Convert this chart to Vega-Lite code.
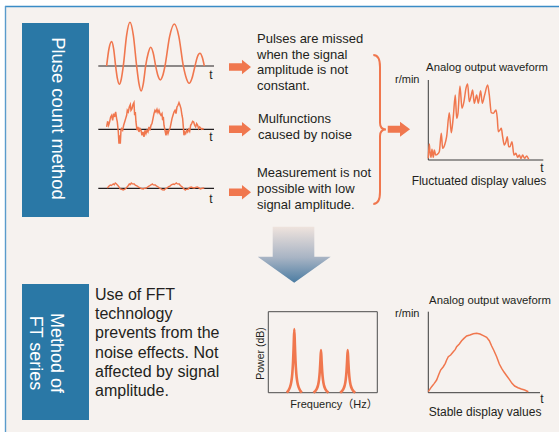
{
"$schema": "https://vega.github.io/schema/vega-lite/v6.json",
"width": 559, "height": 432, "padding": 0, "autosize": {"type": "none"},
"background": "#ffffff",
"config": {"view": {"stroke": null}, "text": {"font": "Liberation Sans"}},
"resolve": {"scale": {"x": "independent", "y": "independent"}},
"layer": [
{
"layer": [
{"data": {"values": [{"item": "panel"}]}, "mark": {"type": "rect", "color": "#f6f2ef"},
 "encoding": {"x": {"datum": 5, "scale": {"domain": [0, 559], "range": [0, 559]}, "axis": null}, "x2": {"datum": 559}, "y": {"datum": 6, "scale": {"domain": [0, 432], "range": [0, 432]}, "axis": null}, "y2": {"datum": 432}}},
{"data": {"values": [{"item": "top border"}]}, "mark": {"type": "rule", "color": "#3a8cc6", "strokeWidth": 1.6},
 "encoding": {"x": {"datum": 5, "scale": {"domain": [0, 559], "range": [0, 559]}, "axis": null}, "x2": {"datum": 559}, "y": {"datum": 6.5, "scale": {"domain": [0, 432], "range": [0, 432]}, "axis": null}}},
{"data": {"values": [{"item": "left border"}]}, "mark": {"type": "rule", "color": "#5a9bcb", "strokeWidth": 1.4},
 "encoding": {"x": {"datum": 5.5, "scale": {"domain": [0, 559], "range": [0, 559]}, "axis": null}, "y": {"datum": 6, "scale": {"domain": [0, 432], "range": [0, 432]}, "axis": null}, "y2": {"datum": 432}}},
{"data": {"values": [{"item": "pulse box"}]}, "mark": {"type": "rect", "color": "#2a78a6"},
 "encoding": {"x": {"datum": 22, "scale": {"domain": [0, 559], "range": [0, 559]}, "axis": null}, "x2": {"datum": 89}, "y": {"datum": 23, "scale": {"domain": [0, 432], "range": [0, 432]}, "axis": null}, "y2": {"datum": 217}}},
{"data": {"values": [{"item": "ft box"}]}, "mark": {"type": "rect", "color": "#2a78a6"},
 "encoding": {"x": {"datum": 22, "scale": {"domain": [0, 559], "range": [0, 559]}, "axis": null}, "x2": {"datum": 89}, "y": {"datum": 284, "scale": {"domain": [0, 432], "range": [0, 432]}, "axis": null}, "y2": {"datum": 420}}},
{"data": {"values": [{"item": "fft frame"}]}, "mark": {"type": "rect", "filled": false, "color": "#4d4d4d", "strokeWidth": 1},
 "encoding": {"x": {"datum": 268.3, "scale": {"domain": [0, 559], "range": [0, 559]}, "axis": null}, "x2": {"datum": 377.3}, "y": {"datum": 311.7, "scale": {"domain": [0, 432], "range": [0, 432]}, "axis": null}, "y2": {"datum": 392.7}}},
{"data": {"values": [{"item": "wave axis 1"}]}, "mark": {"type": "rule", "color": "#231f20", "strokeWidth": 1.2},
 "encoding": {"x": {"datum": 98.3, "scale": {"domain": [0, 559], "range": [0, 559]}, "axis": null}, "x2": {"datum": 214}, "y": {"datum": 66, "scale": {"domain": [0, 432], "range": [0, 432]}, "axis": null}}},
{"data": {"values": [{"item": "wave axis 2"}]}, "mark": {"type": "rule", "color": "#231f20", "strokeWidth": 1.2},
 "encoding": {"x": {"datum": 98.3, "scale": {"domain": [0, 559], "range": [0, 559]}, "axis": null}, "x2": {"datum": 214}, "y": {"datum": 129.3, "scale": {"domain": [0, 432], "range": [0, 432]}, "axis": null}}},
{"data": {"values": [{"item": "wave axis 3"}]}, "mark": {"type": "rule", "color": "#231f20", "strokeWidth": 1.2},
 "encoding": {"x": {"datum": 98.3, "scale": {"domain": [0, 559], "range": [0, 559]}, "axis": null}, "x2": {"datum": 214}, "y": {"datum": 188.3, "scale": {"domain": [0, 432], "range": [0, 432]}, "axis": null}}},
{"data": {"values": [{"item": "analog1 y axis"}]}, "mark": {"type": "rule", "color": "#3a3a3a", "strokeWidth": 1},
 "encoding": {"x": {"datum": 428.3, "scale": {"domain": [0, 559], "range": [0, 559]}, "axis": null}, "y": {"datum": 80, "scale": {"domain": [0, 432], "range": [0, 432]}, "axis": null}, "y2": {"datum": 160}}},
{"data": {"values": [{"item": "analog1 x axis"}]}, "mark": {"type": "rule", "color": "#3a3a3a", "strokeWidth": 1},
 "encoding": {"x": {"datum": 428.3, "scale": {"domain": [0, 559], "range": [0, 559]}, "axis": null}, "x2": {"datum": 543.3}, "y": {"datum": 160, "scale": {"domain": [0, 432], "range": [0, 432]}, "axis": null}}},
{"data": {"values": [{"item": "analog2 y axis"}]}, "mark": {"type": "rule", "color": "#3a3a3a", "strokeWidth": 1},
 "encoding": {"x": {"datum": 428.3, "scale": {"domain": [0, 559], "range": [0, 559]}, "axis": null}, "y": {"datum": 311.7, "scale": {"domain": [0, 432], "range": [0, 432]}, "axis": null}, "y2": {"datum": 392.7}}},
{"data": {"values": [{"item": "analog2 x axis"}]}, "mark": {"type": "rule", "color": "#3a3a3a", "strokeWidth": 1},
 "encoding": {"x": {"datum": 428.3, "scale": {"domain": [0, 559], "range": [0, 559]}, "axis": null}, "x2": {"datum": 540}, "y": {"datum": 392.7, "scale": {"domain": [0, 432], "range": [0, 432]}, "axis": null}}},
{"data": {"values": [{"item": "arrow 1"}]}, "mark": {"type": "point", "shape": "M-1,-0.336L0.18,-0.336L0.18,-0.66L1,0L0.18,0.66L0.18,0.336L-1,0.336Z", "size": 484, "filled": true, "color": "#f0774e", "opacity": 1, "strokeWidth": 0},
 "encoding": {"x": {"datum": 240, "scale": {"domain": [0, 559], "range": [0, 559]}, "axis": null}, "y": {"datum": 67, "scale": {"domain": [0, 432], "range": [0, 432]}, "axis": null}}},
{"data": {"values": [{"item": "arrow 2"}]}, "mark": {"type": "point", "shape": "M-1,-0.336L0.18,-0.336L0.18,-0.66L1,0L0.18,0.66L0.18,0.336L-1,0.336Z", "size": 484, "filled": true, "color": "#f0774e", "opacity": 1, "strokeWidth": 0},
 "encoding": {"x": {"datum": 240, "scale": {"domain": [0, 559], "range": [0, 559]}, "axis": null}, "y": {"datum": 129.3, "scale": {"domain": [0, 432], "range": [0, 432]}, "axis": null}}},
{"data": {"values": [{"item": "arrow 3"}]}, "mark": {"type": "point", "shape": "M-1,-0.336L0.18,-0.336L0.18,-0.66L1,0L0.18,0.66L0.18,0.336L-1,0.336Z", "size": 484, "filled": true, "color": "#f0774e", "opacity": 1, "strokeWidth": 0},
 "encoding": {"x": {"datum": 240, "scale": {"domain": [0, 559], "range": [0, 559]}, "axis": null}, "y": {"datum": 192.3, "scale": {"domain": [0, 432], "range": [0, 432]}, "axis": null}}},
{"data": {"values": [{"item": "brace arrow"}]}, "mark": {"type": "point", "shape": "M-1,-0.31L0.1,-0.31L0.1,-0.67L1,0L0.1,0.67L0.1,0.31L-1,0.31Z", "size": 497, "filled": true, "color": "#f0774e", "opacity": 1, "strokeWidth": 0},
 "encoding": {"x": {"datum": 398.9, "scale": {"domain": [0, 559], "range": [0, 559]}, "axis": null}, "y": {"datum": 129.3, "scale": {"domain": [0, 432], "range": [0, 432]}, "axis": null}}},
{"data": {"values": [{"item": "brace"}]}, "mark": {"type": "point", "shape": "M-0.09,-1Q0,-1 0,-0.84L0,-0.09Q0,0 0.08,0Q0,0 0,0.09L0,0.84Q0,1 -0.09,1", "size": 22201, "filled": false, "stroke": "#f0774e", "strokeWidth": 2, "opacity": 1},
 "encoding": {"x": {"datum": 380, "scale": {"domain": [0, 559], "range": [0, 559]}, "axis": null}, "y": {"datum": 129.5, "scale": {"domain": [0, 432], "range": [0, 432]}, "axis": null}}},
{"data": {"values": [{"item": "big arrow"}]}, "mark": {"type": "point", "shape": "M-0.589,-0.767L0.551,-0.767L0.551,0.055L1,0.055L0,0.767L-1,0.055L-0.589,0.055Z", "size": 5329, "filled": true, "opacity": 1, "strokeWidth": 0,
  "fill": {"gradient": "linear", "x1": 0, "y1": 0, "x2": 0, "y2": 1, "stops": [{"offset": 0, "color": "#efe3dd"}, {"offset": 0.55, "color": "#a8b4c4"}, {"offset": 1, "color": "#4b7ca2"}]}},
 "encoding": {"x": {"datum": 294.2, "scale": {"domain": [0, 559], "range": [0, 559]}, "axis": null}, "y": {"datum": 254.7, "scale": {"domain": [0, 432], "range": [0, 432]}, "axis": null}}},
{"data": {"values": [{"label": "Pluse count method"}]}, "mark": {"type": "text", "angle": 90, "fontSize": 18.4, "color": "#ffffff", "align": "center", "baseline": "middle"},
 "encoding": {"text": {"field": "label"}, "x": {"datum": 58, "scale": {"domain": [0, 559], "range": [0, 559]}, "axis": null}, "y": {"datum": 118.5, "scale": {"domain": [0, 432], "range": [0, 432]}, "axis": null}}},
{"data": {"values": [{"label": "Method of\nFT series"}]}, "mark": {"type": "text", "angle": 90, "fontSize": 18, "lineHeight": 21, "lineBreak": "\n", "color": "#ffffff", "align": "center", "baseline": "middle"},
 "encoding": {"text": {"field": "label"}, "x": {"datum": 56, "scale": {"domain": [0, 559], "range": [0, 559]}, "axis": null}, "y": {"datum": 353, "scale": {"domain": [0, 432], "range": [0, 432]}, "axis": null}}},
{"data": {"values": [{"label": "Use of FFT\ntechnology\nprevents from the\nnoise effects. Not\naffected by signal\namplitude."}]}, "mark": {"type": "text", "fontSize": 16, "lineHeight": 19.2, "lineBreak": "\n", "color": "#231f20", "align": "left", "baseline": "alphabetic"},
 "encoding": {"text": {"field": "label"}, "x": {"datum": 95, "scale": {"domain": [0, 559], "range": [0, 559]}, "axis": null}, "y": {"datum": 300, "scale": {"domain": [0, 432], "range": [0, 432]}, "axis": null}}},
{"data": {"values": [{"label": "Pulses are missed\nwhen the signal\namplitude is not\nconstant."}]}, "mark": {"type": "text", "fontSize": 13, "lineHeight": 15.7, "lineBreak": "\n", "color": "#231f20", "align": "left", "baseline": "alphabetic"},
 "encoding": {"text": {"field": "label"}, "x": {"datum": 257, "scale": {"domain": [0, 559], "range": [0, 559]}, "axis": null}, "y": {"datum": 43, "scale": {"domain": [0, 432], "range": [0, 432]}, "axis": null}}},
{"data": {"values": [{"label": "Mulfunctions\ncaused by noise"}]}, "mark": {"type": "text", "fontSize": 13, "lineHeight": 15.7, "lineBreak": "\n", "color": "#231f20", "align": "left", "baseline": "alphabetic"},
 "encoding": {"text": {"field": "label"}, "x": {"datum": 258, "scale": {"domain": [0, 559], "range": [0, 559]}, "axis": null}, "y": {"datum": 123, "scale": {"domain": [0, 432], "range": [0, 432]}, "axis": null}}},
{"data": {"values": [{"label": "Measurement is not\npossible with low\nsignal amplitude."}]}, "mark": {"type": "text", "fontSize": 13, "lineHeight": 15.9, "lineBreak": "\n", "color": "#231f20", "align": "left", "baseline": "alphabetic"},
 "encoding": {"text": {"field": "label"}, "x": {"datum": 257, "scale": {"domain": [0, 559], "range": [0, 559]}, "axis": null}, "y": {"datum": 177, "scale": {"domain": [0, 432], "range": [0, 432]}, "axis": null}}},
{"data": {"values": [{"label": "t"}]}, "mark": {"type": "text", "fontSize": 12, "color": "#231f20", "align": "center", "baseline": "alphabetic"},
 "encoding": {"text": {"field": "label"}, "x": {"datum": 211, "scale": {"domain": [0, 559], "range": [0, 559]}, "axis": null}, "y": {"datum": 79, "scale": {"domain": [0, 432], "range": [0, 432]}, "axis": null}}},
{"data": {"values": [{"label": "t"}]}, "mark": {"type": "text", "fontSize": 12, "color": "#231f20", "align": "center", "baseline": "alphabetic"},
 "encoding": {"text": {"field": "label"}, "x": {"datum": 211, "scale": {"domain": [0, 559], "range": [0, 559]}, "axis": null}, "y": {"datum": 141, "scale": {"domain": [0, 432], "range": [0, 432]}, "axis": null}}},
{"data": {"values": [{"label": "t"}]}, "mark": {"type": "text", "fontSize": 12, "color": "#231f20", "align": "center", "baseline": "alphabetic"},
 "encoding": {"text": {"field": "label"}, "x": {"datum": 211, "scale": {"domain": [0, 559], "range": [0, 559]}, "axis": null}, "y": {"datum": 203, "scale": {"domain": [0, 432], "range": [0, 432]}, "axis": null}}},
{"data": {"values": [{"label": "Analog output waveform"}]}, "mark": {"type": "text", "fontSize": 11.3, "color": "#231f20", "align": "center", "baseline": "alphabetic"},
 "encoding": {"text": {"field": "label"}, "x": {"datum": 487, "scale": {"domain": [0, 559], "range": [0, 559]}, "axis": null}, "y": {"datum": 71, "scale": {"domain": [0, 432], "range": [0, 432]}, "axis": null}}},
{"data": {"values": [{"label": "r/min"}]}, "mark": {"type": "text", "fontSize": 11, "color": "#231f20", "align": "left", "baseline": "alphabetic"},
 "encoding": {"text": {"field": "label"}, "x": {"datum": 395, "scale": {"domain": [0, 559], "range": [0, 559]}, "axis": null}, "y": {"datum": 83, "scale": {"domain": [0, 432], "range": [0, 432]}, "axis": null}}},
{"data": {"values": [{"label": "t"}]}, "mark": {"type": "text", "fontSize": 12, "color": "#231f20", "align": "center", "baseline": "alphabetic"},
 "encoding": {"text": {"field": "label"}, "x": {"datum": 542, "scale": {"domain": [0, 559], "range": [0, 559]}, "axis": null}, "y": {"datum": 172, "scale": {"domain": [0, 432], "range": [0, 432]}, "axis": null}}},
{"data": {"values": [{"label": "Fluctuated display values"}]}, "mark": {"type": "text", "fontSize": 12, "color": "#231f20", "align": "center", "baseline": "alphabetic"},
 "encoding": {"text": {"field": "label"}, "x": {"datum": 479, "scale": {"domain": [0, 559], "range": [0, 559]}, "axis": null}, "y": {"datum": 185, "scale": {"domain": [0, 432], "range": [0, 432]}, "axis": null}}},
{"data": {"values": [{"label": "Power (dB)"}]}, "mark": {"type": "text", "angle": 270, "fontSize": 10.5, "color": "#231f20", "align": "center", "baseline": "middle"},
 "encoding": {"text": {"field": "label"}, "x": {"datum": 260.5, "scale": {"domain": [0, 559], "range": [0, 559]}, "axis": null}, "y": {"datum": 353.5, "scale": {"domain": [0, 432], "range": [0, 432]}, "axis": null}}},
{"data": {"values": [{"label": "Frequency（Hz）"}]}, "mark": {"type": "text", "font": "Liberation Sans, Noto Sans CJK JP", "fontSize": 11, "color": "#231f20", "align": "center", "baseline": "alphabetic"},
 "encoding": {"text": {"field": "label"}, "x": {"datum": 334, "scale": {"domain": [0, 559], "range": [0, 559]}, "axis": null}, "y": {"datum": 408, "scale": {"domain": [0, 432], "range": [0, 432]}, "axis": null}}},
{"data": {"values": [{"label": "Analog output waveform"}]}, "mark": {"type": "text", "fontSize": 11.3, "color": "#231f20", "align": "center", "baseline": "alphabetic"},
 "encoding": {"text": {"field": "label"}, "x": {"datum": 490, "scale": {"domain": [0, 559], "range": [0, 559]}, "axis": null}, "y": {"datum": 304, "scale": {"domain": [0, 432], "range": [0, 432]}, "axis": null}}},
{"data": {"values": [{"label": "r/min"}]}, "mark": {"type": "text", "fontSize": 11, "color": "#231f20", "align": "left", "baseline": "alphabetic"},
 "encoding": {"text": {"field": "label"}, "x": {"datum": 395, "scale": {"domain": [0, 559], "range": [0, 559]}, "axis": null}, "y": {"datum": 317, "scale": {"domain": [0, 432], "range": [0, 432]}, "axis": null}}},
{"data": {"values": [{"label": "t"}]}, "mark": {"type": "text", "fontSize": 12, "color": "#231f20", "align": "center", "baseline": "alphabetic"},
 "encoding": {"text": {"field": "label"}, "x": {"datum": 542, "scale": {"domain": [0, 559], "range": [0, 559]}, "axis": null}, "y": {"datum": 403, "scale": {"domain": [0, 432], "range": [0, 432]}, "axis": null}}},
{"data": {"values": [{"label": "Stable display values"}]}, "mark": {"type": "text", "fontSize": 12, "color": "#231f20", "align": "center", "baseline": "alphabetic"},
 "encoding": {"text": {"field": "label"}, "x": {"datum": 485, "scale": {"domain": [0, 559], "range": [0, 559]}, "axis": null}, "y": {"datum": 416, "scale": {"domain": [0, 432], "range": [0, 432]}, "axis": null}}}
]
},
{"data": {"values": [
{"t":25,"v":0},{"t":32,"v":51.6},{"t":40,"v":73},{"t":46,"v":51.6},{"t":52,"v":0},
{"t":57.5,"v":-39},{"t":63,"v":-55},{"t":69,"v":-39},{"t":75,"v":0},
{"t":85,"v":92.6},{"t":95,"v":131},{"t":105,"v":92.6},{"t":115,"v":0},
{"t":122,"v":-53},{"t":128.5,"v":-75},{"t":135,"v":-53},{"t":142,"v":0},
{"t":150,"v":39.6},{"t":157,"v":56},{"t":164.5,"v":39.6},{"t":172,"v":0},
{"t":179,"v":-29.7},{"t":186,"v":-42},{"t":193,"v":-29.7},{"t":200,"v":0},
{"t":214,"v":89},{"t":228,"v":126},{"t":241.5,"v":89},{"t":255,"v":0},
{"t":264,"v":-36.8},{"t":272.5,"v":-52},{"t":281,"v":-36.8},{"t":290,"v":0},
{"t":297,"v":26.9},{"t":305,"v":38},{"t":311.5,"v":26.9},{"t":318,"v":0}
]},
 "mark": {"type": "line", "color": "#f0774e", "strokeWidth": 1.6, "interpolate": "monotone"},
 "encoding": {"x": {"field": "t", "type": "quantitative", "scale": {"domain": [0, 347], "range": [98.3, 214]}, "axis": null},
  "y": {"field": "v", "type": "quantitative", "scale": {"domain": [-100, 200], "range": [99.3, -0.7]}, "axis": null}}},
{"data": {"values": [
{"t":25,"v":7},{"t":28,"v":24},{"t":31,"v":12},{"t":34,"v":22},{"t":37,"v":37},{"t":40,"v":42},{"t":43,"v":27},{"t":46,"v":47},{"t":49,"v":37},{"t":52,"v":52},
{"t":55,"v":32},{"t":57,"v":22},{"t":60,"v":-8},{"t":62,"v":-43},{"t":64,"v":-18},{"t":66,"v":-43},{"t":68,"v":-3},{"t":70,"v":2},{"t":73,"v":-3},{"t":76,"v":12},
{"t":79,"v":22},{"t":82,"v":32},{"t":85,"v":42},{"t":87,"v":57},{"t":90,"v":52},{"t":93,"v":67},{"t":96,"v":74},{"t":98,"v":57},{"t":101,"v":62},{"t":104,"v":74},
{"t":107,"v":80},{"t":109,"v":42},{"t":111,"v":52},{"t":113,"v":22},{"t":116,"v":-3},{"t":119,"v":7},{"t":122,"v":-8},{"t":125,"v":2},{"t":128,"v":-3},{"t":131,"v":-18},
{"t":134,"v":-8},{"t":137,"v":-23},{"t":140,"v":-3},{"t":143,"v":-13},{"t":146,"v":-3},{"t":149,"v":-8},{"t":152,"v":7},{"t":155,"v":-3},{"t":158,"v":12},{"t":161,"v":17},
{"t":164,"v":32},{"t":167,"v":47},{"t":170,"v":57},{"t":173,"v":52},{"t":176,"v":60},{"t":179,"v":50},{"t":182,"v":57},{"t":185,"v":47},{"t":188,"v":42},{"t":191,"v":47},
{"t":193,"v":27},{"t":195,"v":37},{"t":197,"v":12},{"t":200,"v":-3},{"t":203,"v":-18},{"t":206,"v":-3},{"t":209,"v":-13},{"t":212,"v":-3},{"t":215,"v":2},{"t":218,"v":17},
{"t":221,"v":32},{"t":224,"v":42},{"t":227,"v":52},{"t":230,"v":57},{"t":233,"v":47},{"t":236,"v":67},{"t":239,"v":72},{"t":242,"v":80},{"t":245,"v":72},{"t":248,"v":62},
{"t":251,"v":42},{"t":253,"v":32},{"t":255,"v":7},{"t":257,"v":-18},{"t":259,"v":-8},{"t":262,"v":-13},{"t":265,"v":-3},{"t":268,"v":-8},{"t":271,"v":0},{"t":274,"v":-6},
{"t":277,"v":12},{"t":280,"v":17},{"t":283,"v":24},{"t":286,"v":22},{"t":289,"v":12},{"t":292,"v":7},{"t":295,"v":17},{"t":298,"v":12},{"t":301,"v":2},{"t":304,"v":7},
{"t":307,"v":4},{"t":310,"v":0},{"t":313,"v":2},{"t":316,"v":0}
]},
 "mark": {"type": "line", "color": "#f0774e", "strokeWidth": 1.5},
 "encoding": {"x": {"field": "t", "type": "quantitative", "scale": {"domain": [0, 347], "range": [98.3, 214]}, "axis": null},
  "y": {"field": "v", "type": "quantitative", "scale": {"domain": [-100, 200], "range": [162.6, 62.6]}, "axis": null}}},
{"data": {"values": [
{"t":9,"v":0.3},{"t":11,"v":2.5},{"t":12,"v":3.3},{"t":13,"v":2.8},{"t":15,"v":4.3},{"t":16,"v":3.5},{"t":17,"v":5.3},{"t":18,"v":4.6},{"t":20,"v":2.3},{"t":21,"v":1},
{"t":22,"v":-0.7},{"t":24,"v":-1.2},{"t":25,"v":-1.7},{"t":27,"v":-0.5},{"t":28,"v":0.3},{"t":30,"v":2.8},{"t":31,"v":4.3},{"t":32,"v":3.8},{"t":33,"v":5.3},{"t":34,"v":4.5},
{"t":36,"v":4.3},{"t":37,"v":3.2},{"t":39,"v":2.3},{"t":40,"v":1.5},{"t":42,"v":0.3},{"t":43,"v":-0.2},{"t":45,"v":-0.7},{"t":46,"v":0},{"t":48,"v":0.3},{"t":50,"v":1.8},
{"t":51,"v":2.3},{"t":53,"v":3.6},{"t":54,"v":4.3},{"t":55,"v":3.4},{"t":57,"v":3.3},{"t":58,"v":2.4},{"t":60,"v":1.3},{"t":61,"v":0.5},{"t":63,"v":-0.7},{"t":64,"v":-1.5},
{"t":66,"v":-1.7},{"t":67,"v":-0.6},{"t":69,"v":0.3},{"t":70,"v":1.5},{"t":72,"v":2.3},{"t":73,"v":3.5},{"t":75,"v":4.3},{"t":76,"v":3.8},{"t":78,"v":5.3},{"t":79,"v":4.4},
{"t":81,"v":4.3},{"t":82,"v":2.8},{"t":84,"v":1.3},{"t":85,"v":0},{"t":87,"v":-1.7},{"t":88,"v":-1},{"t":90,"v":-0.7},{"t":91,"v":0.6},{"t":93,"v":1.3},{"t":95,"v":0.5},
{"t":96,"v":0.3},{"t":98,"v":1.2},{"t":99,"v":1.3},{"t":101,"v":0.2},{"t":102,"v":-0.7},{"t":104,"v":0},{"t":106,"v":0.3}
]},
 "mark": {"type": "line", "color": "#f0774e", "strokeWidth": 1.4},
 "encoding": {"x": {"field": "t", "type": "quantitative", "scale": {"domain": [0, 115.7], "range": [98.3, 214]}, "axis": null},
  "y": {"field": "v", "type": "quantitative", "scale": {"domain": [-10, 10], "range": [198.3, 178.3]}, "axis": null}}},
{"data": {"values": [
{"t":0,"v":5},{"t":3,"v":48},{"t":5,"v":25},{"t":8,"v":8},{"t":11,"v":32},{"t":15,"v":8},{"t":18,"v":30},{"t":22,"v":15},{"t":27,"v":17},{"t":33,"v":25},
{"t":39,"v":80},{"t":43,"v":35},{"t":49,"v":45},{"t":55,"v":70},{"t":63,"v":142},{"t":69,"v":82},{"t":75,"v":130},{"t":81,"v":195},{"t":85,"v":125},{"t":89,"v":140},
{"t":95,"v":222},{"t":101,"v":155},{"t":107,"v":175},{"t":113,"v":215},{"t":118,"v":228},{"t":123,"v":175},{"t":128,"v":190},{"t":133,"v":210},{"t":138,"v":170},{"t":145,"v":195},
{"t":150,"v":170},{"t":157,"v":208},{"t":162,"v":170},{"t":169,"v":195},{"t":178,"v":225},{"t":183,"v":195},{"t":189,"v":142},{"t":195,"v":140},{"t":203,"v":150},{"t":207,"v":125},
{"t":210,"v":85},{"t":215,"v":90},{"t":219,"v":95},{"t":223,"v":70},{"t":228,"v":45},{"t":233,"v":55},{"t":237,"v":70},{"t":241,"v":40},{"t":245,"v":40},{"t":251,"v":55},
{"t":257,"v":15},{"t":263,"v":20},{"t":268,"v":8},{"t":273,"v":15},{"t":278,"v":5},{"t":283,"v":15},{"t":289,"v":5},{"t":295,"v":12},{"t":301,"v":2}
]},
 "mark": {"type": "line", "color": "#f0774e", "strokeWidth": 1.5, "interpolate": "monotone"},
 "encoding": {"x": {"field": "t", "type": "quantitative", "scale": {"domain": [0, 345], "range": [428.3, 543.3]}, "axis": null},
  "y": {"field": "v", "type": "quantitative", "scale": {"domain": [0, 240], "range": [160, 80]}, "axis": null}}},
{"data": {"values": [
{"peak":"1","f":18.5,"p":0},{"peak":"1","f":20,"p":2.4},{"peak":"1","f":21.5,"p":6.3},{"peak":"1","f":23,"p":13.4},{"peak":"1","f":24,"p":23.6},{"peak":"1","f":24.8,"p":39.3},{"peak":"1","f":25.4,"p":59},{"peak":"1","f":26,"p":78.6},{"peak":"1","f":26.6,"p":59},{"peak":"1","f":27.2,"p":39.3},{"peak":"1","f":28,"p":23.6},{"peak":"1","f":29,"p":13.4},{"peak":"1","f":30.5,"p":6.3},{"peak":"1","f":32,"p":2.4},{"peak":"1","f":33.5,"p":0},
{"peak":"2","f":45.2,"p":0},{"peak":"2","f":46.7,"p":1.6},{"peak":"2","f":48.2,"p":4.2},{"peak":"2","f":49.7,"p":9},{"peak":"2","f":50.7,"p":15.8},{"peak":"2","f":51.5,"p":26.4},{"peak":"2","f":52.1,"p":39.5},{"peak":"2","f":52.7,"p":52.7},{"peak":"2","f":53.3,"p":39.5},{"peak":"2","f":53.9,"p":26.4},{"peak":"2","f":54.7,"p":15.8},{"peak":"2","f":55.7,"p":9},{"peak":"2","f":57.2,"p":4.2},{"peak":"2","f":58.7,"p":1.6},{"peak":"2","f":60.2,"p":0},
{"peak":"3","f":71.9,"p":0},{"peak":"3","f":73.4,"p":1.6},{"peak":"3","f":74.9,"p":4.2},{"peak":"3","f":76.4,"p":9},{"peak":"3","f":77.4,"p":15.8},{"peak":"3","f":78.2,"p":26.4},{"peak":"3","f":78.8,"p":39.5},{"peak":"3","f":79.4,"p":52.7},{"peak":"3","f":80,"p":39.5},{"peak":"3","f":80.6,"p":26.4},{"peak":"3","f":81.4,"p":15.8},{"peak":"3","f":82.4,"p":9},{"peak":"3","f":83.9,"p":4.2},{"peak":"3","f":85.4,"p":1.6},{"peak":"3","f":86.9,"p":0}
]},
 "mark": {"type": "line", "color": "#f0774e", "strokeWidth": 2.6, "interpolate": "monotone"},
 "encoding": {"detail": {"field": "peak"},
  "x": {"field": "f", "type": "quantitative", "scale": {"domain": [0, 109], "range": [268.3, 377.3]}, "axis": null},
  "y": {"field": "p", "type": "quantitative", "scale": {"domain": [0, 100], "range": [392.7, 311.7]}, "axis": null}}},
{"data": {"values": [
{"t":0,"v":3},{"t":10,"v":18},{"t":18,"v":28},{"t":25,"v":38},{"t":32,"v":56},{"t":37,"v":68},{"t":45,"v":78},{"t":51,"v":88},{"t":55,"v":98},{"t":60,"v":108},
{"t":67,"v":113},{"t":75,"v":123},{"t":81,"v":130},{"t":85,"v":138},{"t":93,"v":146},{"t":100,"v":156},{"t":107,"v":163},{"t":115,"v":170},{"t":125,"v":173},{"t":135,"v":177},
{"t":145,"v":178},{"t":155,"v":176},{"t":165,"v":171},{"t":175,"v":166},{"t":183,"v":156},{"t":190,"v":140},{"t":197,"v":126},{"t":205,"v":108},{"t":213,"v":86},{"t":220,"v":73},
{"t":227,"v":62},{"t":235,"v":51},{"t":243,"v":40},{"t":251,"v":28},{"t":259,"v":20},{"t":269,"v":15},{"t":279,"v":11},{"t":289,"v":8},{"t":300,"v":3}
]},
 "mark": {"type": "line", "color": "#f0774e", "strokeWidth": 1.5},
 "encoding": {"x": {"field": "t", "type": "quantitative", "scale": {"domain": [0, 335], "range": [428.3, 540]}, "axis": null},
  "y": {"field": "v", "type": "quantitative", "scale": {"domain": [0, 243], "range": [392.7, 311.7]}, "axis": null}}}
]
}
